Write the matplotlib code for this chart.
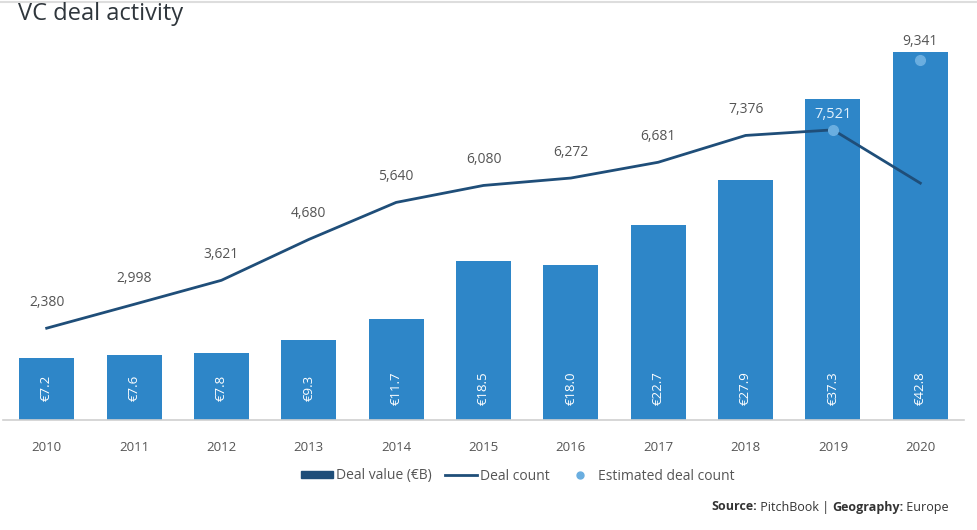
import matplotlib
matplotlib.use("Agg")
import matplotlib.pyplot as plt
from matplotlib.lines import Line2D
from matplotlib.patches import Patch

years = ["2010", "2011", "2012", "2013", "2014", "2015", "2016", "2017", "2018", "2019", "2020"]
deal_value = [7.2, 7.6, 7.8, 9.3, 11.7, 18.5, 18.0, 22.7, 27.9, 37.3, 42.8]
deal_count = [2380, 2998, 3621, 4680, 5640, 6080, 6272, 6681, 7376, 7521, 6140]
count_labels = ["2,380", "2,998", "3,621", "4,680", "5,640", "6,080", "6,272", "6,681", "7,376", None, None]
est_years_idx = [9, 10]
est_count = [7521, 9341]
est_labels = ["7,521", "9,341"]

BAR = "#2E86C8"
LINE = "#1F4E79"
DOT = "#6AAEE0"
GRAY = "#555555"

plt.rcParams['font.family'] = ['Open Sans', 'DejaVu Sans']

fig = plt.figure(figsize=(9.77, 5.30), dpi=100)
W, H = 977, 530
ax = fig.add_axes([3 / W, 1 - 420 / H, 961 / W, 380 / H])
x = list(range(len(years)))
ax.bar(x, deal_value, width=0.63, color=BAR, zorder=2)
ax.set_xlim(-0.5, len(years) - 0.5)
ax.set_ylim(0, 44.2)
ax.set_yticks([])
ax.set_xticks(x)
ax.set_xticklabels(years, fontsize=9.5, color=GRAY)
ax.tick_params(axis='x', length=0, pad=15)
for s in ["top", "right", "left"]:
    ax.spines[s].set_visible(False)
ax.spines["bottom"].set_color("#d0d0d0")
ax.spines["bottom"].set_linewidth(1.2)

for xi, v in zip(x, deal_value):
    ax.text(xi, 3.7, f"€{v:.1f}", rotation=90, ha='center', va='center',
            color='white', fontsize=9.5, zorder=3)

ax2 = ax.twinx()
ax2.set_ylim(0, 9850)
ax2.set_yticks([])
for s in ["top", "right", "left", "bottom"]:
    ax2.spines[s].set_visible(False)
ax2.plot(x, deal_count, color=LINE, lw=2.0, zorder=4)
for xi, v, lab in zip(x, deal_count, count_labels):
    if lab:
        ax2.annotate(lab, (xi, v), xytext=(0, 13), textcoords='offset points',
                     ha='center', va='bottom', fontsize=10, color=GRAY)
ax2.plot(est_years_idx, est_count, 'o', color=DOT, markersize=7, zorder=5, linestyle='none')
ax2.annotate(est_labels[0], (est_years_idx[0], est_count[0]), xytext=(0, 6), textcoords='offset points',
             ha='center', va='bottom', fontsize=10.5, color='#e3f1fc', zorder=6)
ax2.annotate(est_labels[1], (est_years_idx[1], est_count[1]), xytext=(0, 8), textcoords='offset points',
             ha='center', va='bottom', fontsize=10, color=GRAY, zorder=6)

fig.text(18 / W, 1 - 14 / H, "VC deal activity", fontsize=17, color="#2f363c",
         ha='left', va='center')
fig.add_artist(Line2D([0, 1], [1 - 1.5 / H, 1 - 1.5 / H], transform=fig.transFigure,
                      color="#dddddd", lw=1.5))

handles = [
    Patch(facecolor=LINE, edgecolor=LINE),
    Line2D([0], [0], color=LINE, lw=2),
    Line2D([0], [0], marker='o', color=DOT, markersize=5, linestyle='none'),
]
labels = ["Deal value (€B)", "Deal count", "Estimated deal count"]
fig.legend(handles, labels, loc='center', bbox_to_anchor=(518 / W, 1 - 476 / H), ncol=3,
           frameon=False, fontsize=10, labelcolor=GRAY, handlelength=2.3, handleheight=0.35,
           handletextpad=0.2, columnspacing=1.0)

# Source line, chained pieces
parts = [("Source:", 'bold'), (" PitchBook | ", 'normal'), ("Geography:", 'bold'), (" Europe", 'normal')]
last = fig.text(711 / W, 1 - 507 / H, parts[0][0], fontsize=9, fontweight=parts[0][1],
                color="#333333", ha='left', va='center')
for txt, wt in parts[1:]:
    last = ax.annotate(txt, xy=(1, 0.5), xycoords=last, ha='left', va='center', fontsize=9,
                       fontweight=wt, color="#333333", annotation_clip=False)

fig.savefig("out.png", dpi=100)
